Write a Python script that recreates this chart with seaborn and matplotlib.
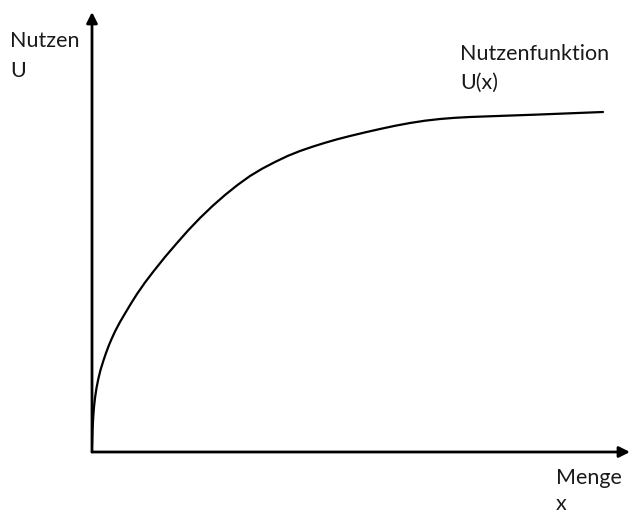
import matplotlib.pyplot as plt
import seaborn as sns

# Menge x und Nutzen U (beliebige Einheiten)
menge = [0, 0.5, 1.3, 2, 3, 4.5, 6.3, 8.5, 11.3, 14, 17, 20, 23, 28, 33, 39,
         45, 53, 61, 73, 85, 96.5, 108, 120.5, 133, 145.5, 158, 170.5, 183,
         195.5, 208, 220.5, 233, 245.5, 258, 273, 288, 303, 318, 333, 348,
         363, 378, 411, 445, 478, 511]
nutzen = [7, 22, 36, 45, 54, 64, 73, 82, 91, 99, 107, 114, 120.5, 130, 138.5,
          148.5, 158, 169.5, 180, 195, 209, 222, 234, 246, 257, 267, 276,
          283.5, 290, 296, 301, 305.3, 309.2, 312.8, 316, 319.6, 323, 326.2,
          329, 331.3, 333, 334.2, 335, 336.2, 337.4, 338.7, 340]

sns.set_style("white")
plt.rcParams["font.family"] = ["Lato", "DejaVu Sans"]

fig = plt.figure(figsize=(6.31, 5.14), dpi=100)
W, H = 631, 514
ax = fig.add_axes([92 / W, 1 - 452 / H, (630 - 92) / W, (452 - 12) / H])

sns.lineplot(x=menge, y=nutzen, ax=ax, color="black", linewidth=1.6,
             estimator=None, sort=False)
ax.set_xlim(0, 538)
ax.set_ylim(0, 440)
ax.set_xticks([])
ax.set_yticks([])
for s in ax.spines.values():
    s.set_visible(False)

# Achsen mit Pfeilen
arrow = dict(arrowstyle="-|>", color="black", lw=2, mutation_scale=16,
             shrinkA=0, shrinkB=0)
ax.annotate("", xy=(0, 1), xytext=(0, 0), xycoords="axes fraction",
            arrowprops=arrow, annotation_clip=False)
ax.annotate("", xy=(1, 0), xytext=(0, 0), xycoords="axes fraction",
            arrowprops=arrow, annotation_clip=False)

# Beschriftungen
def label(txt, x, y):
    fig.text(x / W, 1 - y / H, txt, fontsize=15.5, color="#1a1a1a",
             va="baseline", ha="left")

label("Nutzen", 10, 47)
label("U", 10, 77)
label("Nutzenfunktion", 460, 60)
label("U(x)", 460, 89)
label("Menge", 556, 484)
label("x", 556, 510)

plt.savefig("out.png", dpi=100)
